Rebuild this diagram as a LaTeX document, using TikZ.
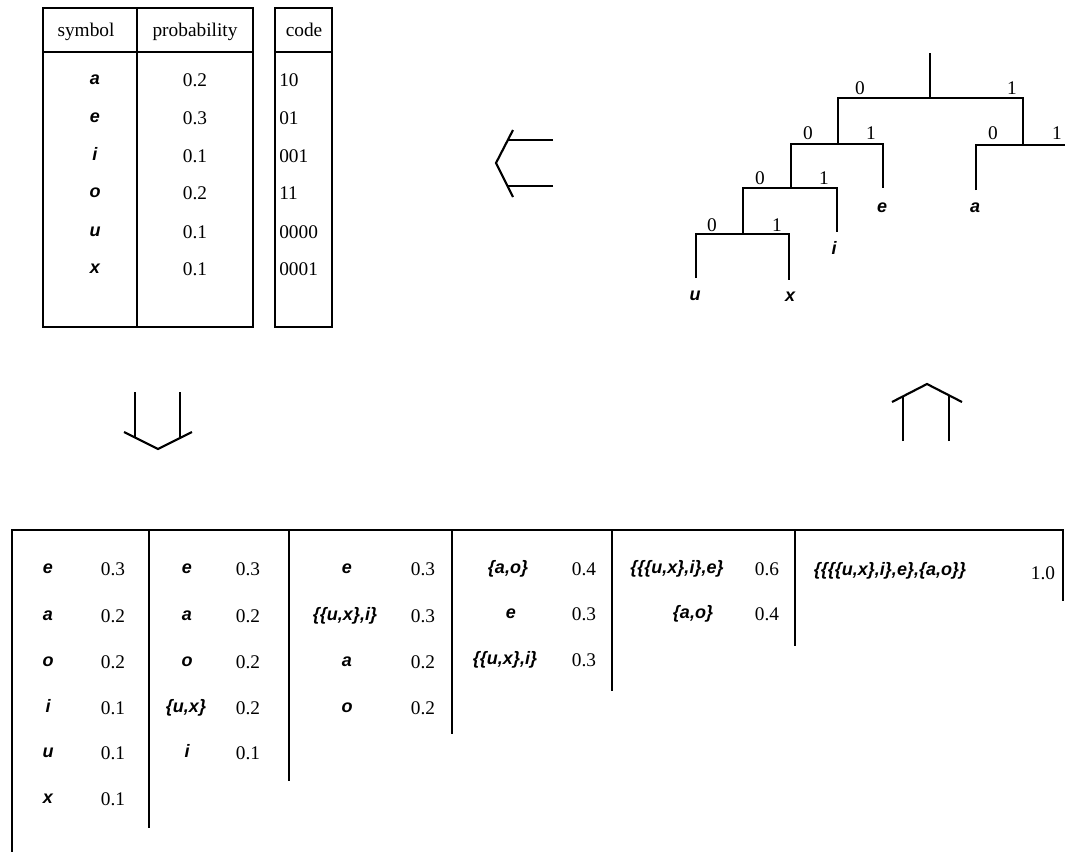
\documentclass[tikz,border=0pt]{standalone}
\usepackage{fontspec}
\setmainfont{Liberation Serif}
\newfontfamily\symfam{Liberation Sans}
\begin{document}
\begin{tikzpicture}[x=0.75pt,y=-0.75pt,
  rule/.style={line width=1.5pt,line cap=rect},
  arr/.style={line width=1.6pt,line join=miter},
  branch/.style={line width=1.6pt,line join=miter},
  num/.style={font=\fontsize{14.5}{17}\selectfont,inner sep=0pt,anchor=base,yshift=-4.8pt},
  numl/.style={num,anchor=base west},
  sym/.style={font=\fontsize{13.5}{16}\selectfont\symfam\bfseries\itshape,inner sep=0pt,anchor=base,yshift=-3.7pt},
  bit/.style={num}]
\useasboundingbox (0,0) rectangle (1065,851);

% ---------- code table ----------
\draw[rule] (43,8) rectangle (253,327);
\draw[rule] (43,52) -- (253,52);
\draw[rule] (137,8) -- (137,327);
\draw[rule] (275,8) rectangle (332,327);
\draw[rule] (275,52) -- (332,52);
\node[num] (hsym) at (86,30) {symbol};
\node[num] (hprob) at (195,30) {probability};
\node[num] (hcode) at (304,30) {code};
\foreach \s/\p/\c/\y [count=\k] in {a/0.2/10/80,e/0.3/01/118,i/0.1/001/156,o/0.2/11/193,u/0.1/0000/232,x/0.1/0001/269}{
  \node[sym] (ts\k) at (95,\y) {\s};
  \node[num] (tp\k) at (195,\y) {\p};
  \node[numl] (tc\k) at (279,\y) {\c};
}

% ---------- hollow arrows ----------
% left
\draw[arr] (553,140) -- (508,140);
\draw[arr] (553,186) -- (508,186);
\draw[arr] (513,130) -- (496,163) -- (513,197);
% down
\draw[arr] (135,392) -- (135,437);
\draw[arr] (180,392) -- (180,437);
\draw[arr] (124,432) -- (158,449) -- (192,432);
% up
\draw[arr] (903,441) -- (903,396);
\draw[arr] (949,441) -- (949,396);
\draw[arr] (892,402) -- (927,384) -- (962,402);

% ---------- code tree ----------
\coordinate (rt) at (930,53);
\coordinate (r) at (930,98);
\coordinate (n0) at (838,98);
\coordinate (n1) at (1023,98);
\coordinate (n0b) at (838,144);
\coordinate (n1b) at (1023,145);
\coordinate (n00) at (791,144);
\coordinate (n01) at (883,144);
\coordinate (n10) at (976,145);
\coordinate (n11) at (1065,145);
\coordinate (n00b) at (791,188);
\coordinate (n000) at (743,188);
\coordinate (n001) at (837,188);
\coordinate (n000b) at (743,234);
\coordinate (n0000) at (696,234);
\coordinate (n0001) at (789,234);
\coordinate (le) at (883,188);
\coordinate (la) at (976,190);
\coordinate (li) at (837,232);
\coordinate (lu) at (696,278);
\coordinate (lx) at (789,280);

\draw[branch] (rt) -- (r);
\draw[branch] (n0b) -- (n0) -- (n1) -- (n1b);
\draw[branch] (n00) -- (n01) -- (le);
\draw[branch] (n0b) -- (n00) -- (n00b);
\draw[branch] (la) -- (n10) -- (n11);
\draw[branch] (n00b) -- (n000) -- (n000b);
\draw[branch] (n00b) -- (n001) -- (li);
\draw[branch] (lu) -- (n0000) -- (n0001) -- (lx);

\node[bit] (b0) at (860,88) {0};
\node[bit] (b1) at (1012,88) {1};
\node[bit] (b00) at (808,133) {0};
\node[bit] (b01) at (871,133) {1};
\node[bit] (b10) at (993,133) {0};
\node[bit] (b11) at (1057,133) {1};
\node[bit] (b000) at (760,178) {0};
\node[bit] (b001) at (824,178) {1};
\node[bit] (b0000) at (712,225) {0};
\node[bit] (b0001) at (777,225) {1};

\node[sym] (ke) at (882,208) {e};
\node[sym] (ka) at (975,208) {a};
\node[sym] (ki) at (834,250) {i};
\node[sym] (ku) at (695,296) {u};
\node[sym] (kx) at (790,297) {x};

% ---------- merging table ----------
\draw[rule] (12,851) -- (12,530) -- (1063,530) -- (1063,600);
\draw[rule] (149,530) -- (149,827);
\draw[rule] (289,530) -- (289,780);
\draw[rule] (452,530) -- (452,733);
\draw[rule] (612,530) -- (612,690);
\draw[rule] (795,530) -- (795,645);

% column 1
\foreach \s/\p/\y [count=\k] in {e/0.3/569,a/0.2/616,o/0.2/662,i/0.1/708,u/0.1/753,x/0.1/799}{
  \node[sym] (c1s\k) at (48,\y) {\s};
  \node[num] (c1v\k) at (113,\y) {\p};
}
% column 2
\node[sym] (c2s1) at (187,569) {e};        \node[num] (c2v1) at (248,569) {0.3};
\node[sym] (c2s2) at (187,616) {a};        \node[num] (c2v2) at (248,616) {0.2};
\node[sym] (c2s3) at (187,662) {o};        \node[num] (c2v3) at (248,662) {0.2};
\node[sym] (c2s4) at (186,708) {\{u,x\}};  \node[num] (c2v4) at (248,708) {0.2};
\node[sym] (c2s5) at (187,753) {i};        \node[num] (c2v5) at (248,753) {0.1};
% column 3
\node[sym] (c3s1) at (347,569) {e};              \node[num] (c3v1) at (423,569) {0.3};
\node[sym] (c3s2) at (345,616) {\{\{u,x\},i\}};  \node[num] (c3v2) at (423,616) {0.3};
\node[sym] (c3s3) at (347,662) {a};              \node[num] (c3v3) at (423,662) {0.2};
\node[sym] (c3s4) at (347,708) {o};              \node[num] (c3v4) at (423,708) {0.2};
% column 4
\node[sym] (c4s1) at (508,569) {\{a,o\}};        \node[num] (c4v1) at (584,569) {0.4};
\node[sym] (c4s2) at (511,614) {e};              \node[num] (c4v2) at (584,614) {0.3};
\node[sym] (c4s3) at (505,660) {\{\{u,x\},i\}};  \node[num] (c4v3) at (584,660) {0.3};
% column 5
\node[sym] (c5s1) at (677,569) {\{\{\{u,x\},i\},e\}};  \node[num] (c5v1) at (767,569) {0.6};
\node[sym] (c5s2) at (693,614) {\{a,o\}};              \node[num] (c5v2) at (767,614) {0.4};
% column 6
\node[sym] (c6s1) at (890,571) {\{\{\{\{u,x\},i\},e\},\{a,o\}\}};
\node[num] (c6v1) at (1043,573) {1.0};
\end{tikzpicture}
\end{document}
